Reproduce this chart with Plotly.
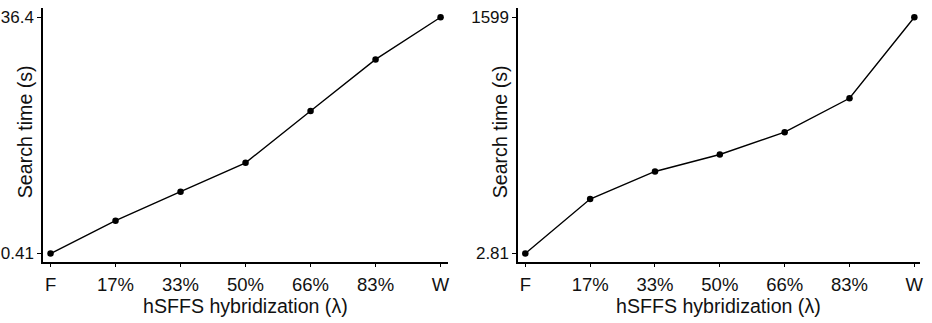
import plotly.graph_objects as go

# ---- data ----
categories = ["F", "17%", "33%", "50%", "66%", "83%", "W"]
left_values = [0.41, 5.42, 9.83, 14.23, 22.13, 29.98, 36.4]
right_values = [2.81, 371.2, 557.1, 671.6, 822.5, 1051.4, 1599]
left_ticks = [0.41, 36.4]
right_ticks = [2.81, 1599]
left_tick_text = ["0.41", "36.4"]
right_tick_text = ["2.81", "1599"]
x_title = "hSFFS hybridization (λ)"
y_title = "Search time (s)"

W, H = 932, 323
FONT = "Liberation Sans, Arial, sans-serif"
TXT = "#111111"

# plot-area geometry in pixels
top_px, bot_px = 8.0, 263.3
ymin_px, ymax_px = 254.3, 17.3  # pixel rows of the lowest/highest tick
panels = [
    dict(ax0=42.7, ax1=449.3, first=50.7, last=442.0, vals=left_values,
         ticks=left_ticks, text=left_tick_text),
    dict(ax0=519.3, ax1=923.3, first=527.0, last=917.3, vals=right_values,
         ticks=right_ticks, text=right_tick_text),
]

fig = go.Figure()
layout = dict(
    width=W, height=H,
    margin=dict(l=0, r=0, t=0, b=0),
    paper_bgcolor="white", plot_bgcolor="white",
    showlegend=False,
    font=dict(family=FONT, color=TXT),
    annotations=[],
)

n = len(categories)
xs = list(range(n))
for k, p in enumerate(panels):
    i = 2 * k + 1
    sx = "" if i == 1 else str(i)
    sx2 = str(i + 1)
    spacing = (p["last"] - p["first"]) / (n - 1)
    xr = [(p["ax0"] - p["first"]) / spacing, (n - 1) + (p["ax1"] - p["last"]) / spacing]
    lo, hi = p["ticks"]
    upp = (hi - lo) / (ymin_px - ymax_px)
    yr = [lo - (bot_px - ymin_px) * upp, hi + (ymax_px - top_px) * upp]
    xdom = [p["ax0"] / W, p["ax1"] / W]
    ydom = [1 - bot_px / H, 1 - top_px / H]

    fig.add_trace(go.Scatter(
        x=xs, y=p["vals"], mode="lines+markers",
        line=dict(color="black", width=1.4),
        marker=dict(color="black", size=6.5),
        xaxis="x" + sx, yaxis="y" + sx, hoverinfo="skip"))

    common = dict(showgrid=False, zeroline=False, showline=True,
                  linecolor="black", linewidth=1.2, tickcolor="black",
                  tickwidth=1, fixedrange=True)
    layout["xaxis" + sx] = dict(
        domain=xdom, range=xr, anchor="y" + sx, tickmode="array",
        tickvals=xs, ticktext=categories, ticks="outside", ticklen=3,
        ticklabelstandoff=2,
        tickfont=dict(size=18.5, family=FONT, color=TXT), **common)
    layout["yaxis" + sx] = dict(
        domain=ydom, range=yr, anchor="x" + sx, tickmode="array",
        tickvals=p["ticks"], ticktext=p["text"], ticks="outside", ticklen=4,
        ticklabelstandoff=0,
        tickfont=dict(size=17, family=FONT, color=TXT), **common)
    # overlay axes that draw the inner half of the crossing tick marks
    layout["xaxis" + sx2] = dict(
        domain=xdom, range=xr, anchor="y" + sx2, overlaying="x" + sx,
        tickmode="array", tickvals=xs, ticks="inside", ticklen=3,
        showticklabels=False, showgrid=False, zeroline=False, showline=False,
        tickcolor="black", tickwidth=1, fixedrange=True)
    layout["yaxis" + sx2] = dict(
        domain=ydom, range=yr, anchor="x" + sx2, overlaying="y" + sx,
        tickmode="array", tickvals=p["ticks"], ticks="inside", ticklen=4,
        showticklabels=False, showgrid=False, zeroline=False, showline=False,
        tickcolor="black", tickwidth=1, fixedrange=True)

    layout["annotations"].append(dict(
        text=x_title, xref="paper", yref="paper",
        x=(xdom[0] + xdom[1]) / 2, y=1 - 307 / H, xanchor="center", yanchor="middle",
        showarrow=False, font=dict(size=19.6, family=FONT, color=TXT)))
    layout["annotations"].append(dict(
        text=y_title, xref="paper", yref="paper", textangle=-90,
        x=(p["ax0"] - 18) / W, y=1 - 132 / H, xanchor="center", yanchor="middle",
        showarrow=False, font=dict(size=19.6, family=FONT, color=TXT)))

fig.update_layout(**layout)
fig.write_html(
    "out.html",
    config={"displayModeBar": False, "staticPlot": True},
    post_script="document.body.style.margin='0';document.body.style.overflow='hidden';",
)
